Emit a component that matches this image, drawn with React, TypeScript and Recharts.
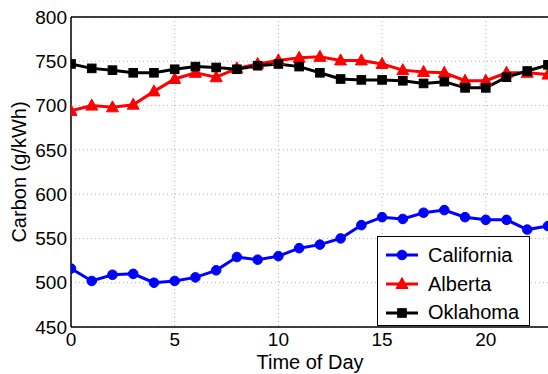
import React from "react";
import { LineChart, Line, XAxis, YAxis, CartesianGrid, ReferenceLine, Legend, Label } from "recharts";

const hours = [0, 1, 2, 3, 4, 5, 6, 7, 8, 9, 10, 11, 12, 13, 14, 15, 16, 17, 18, 19, 20, 21, 22, 23];
const california = [516, 502, 509, 510, 500, 502, 506, 514, 529, 526, 530, 539, 543, 550, 565, 574, 572, 579, 582, 574, 571, 571, 560, 564];
const alberta = [694, 700, 698, 701, 716, 730, 737, 732, 742, 747, 751, 754, 755, 751, 751, 747, 740, 738, 737, 728, 728, 737, 737, 735];
const oklahoma = [747, 742, 740, 737, 737, 741, 744, 743, 741, 745, 747, 744, 737, 730, 729, 729, 728, 725, 727, 720, 720, 732, 739, 746];
const xTicks = [0, 5, 10, 15, 20];
const yTicks = [450, 500, 550, 600, 650, 700, 750, 800];

const data = hours.map((h, i) => ({
  hour: h,
  California: california[i],
  Alberta: alberta[i],
  Oklahoma: oklahoma[i],
}));

const FONT = "'Liberation Sans', Arial, Helvetica, sans-serif";

const Marker = ({ shape, cx, cy, color }: any) => {
  if (shape === "circle") return <circle cx={cx} cy={cy} r={4.8} fill={color} stroke={color} />;
  if (shape === "triangle")
    return <polygon points={`${cx},${cy - 6.5} ${cx - 6},${cy + 4.5} ${cx + 6},${cy + 4.5}`} fill={color} stroke={color} />;
  return <rect x={cx - 4.3} y={cy - 4.3} width={8.6} height={8.6} fill={color} stroke={color} />;
};

const series = [
  { key: "California", color: "#0000ff", shape: "circle" },
  { key: "Alberta", color: "#ff0000", shape: "triangle" },
  { key: "Oklahoma", color: "#000000", shape: "square" },
];

const LegendBox = () => (
  <div
    style={{
      width: 153,
      height: 90,
      boxSizing: "border-box",
      border: "1.5px solid #000",
      background: "#fff",
      fontFamily: FONT,
      fontSize: 20,
      paddingTop: 4,
    }}
  >
    {series.map((s) => (
      <div key={s.key} style={{ display: "flex", alignItems: "center", height: 28.7 }}>
        <svg width={44} height={20} style={{ marginLeft: 6 }}>
          <line x1={2} y1={10} x2={34} y2={10} stroke={s.color} strokeWidth={3} />
          <Marker shape={s.shape} cx={18} cy={10} color={s.color} />
        </svg>
        <span>{s.key}</span>
      </div>
    ))}
  </div>
);

export default function App() {
  return (
    <div style={{ position: "absolute", left: 0, top: 0, background: "#fff" }}>
      <LineChart width={548} height={374} data={data} margin={{ top: 17, right: 0, left: 0, bottom: 0 }}>
        <CartesianGrid stroke="#b4b4b4" strokeDasharray="1 3" verticalValues={xTicks} horizontalValues={yTicks} />
        <XAxis
          dataKey="hour"
          type="number"
          domain={[0, 23]}
          ticks={xTicks}
          height={47}
          tickSize={0}
          tickMargin={6}
          stroke="#000"
          strokeWidth={1.5}
          tick={{ fill: "#000", fontSize: 19, fontFamily: FONT }}
          allowDataOverflow
        >
          <Label
            content={() => (
              <text x={310} y={369} textAnchor="middle" fontSize={20} fontFamily={FONT} fill="#000">
                Time of Day
              </text>
            )}
          />
        </XAxis>
        <YAxis
          type="number"
          domain={[450, 800]}
          ticks={yTicks}
          width={71}
          tickSize={0}
          tickMargin={4}
          stroke="#000"
          strokeWidth={1.5}
          tick={{ fill: "#000", fontSize: 19, fontFamily: FONT }}
          allowDataOverflow
        >
          <Label
            content={() => (
              <text
                x={19}
                y={172}
                transform="rotate(-90 19 172)"
                textAnchor="middle"
                dominantBaseline="central"
                fontSize={20}
                fontFamily={FONT}
                fill="#000"
              >
                Carbon (g/kWh)
              </text>
            )}
          />
        </YAxis>
        <ReferenceLine y={800} stroke="#000" strokeWidth={1.5} ifOverflow="visible" />
        {series.map((s) => (
          <Line
            key={s.key}
            dataKey={s.key}
            stroke={s.color}
            strokeWidth={3}
            isAnimationActive={false}
            dot={(p: any) => <Marker key={`${s.key}-${p.index}`} shape={s.shape} cx={p.cx} cy={p.cy} color={s.color} />}
            activeDot={false}
          />
        ))}
        <Legend
          layout="vertical"
          align="center"
          verticalAlign="middle"
          wrapperStyle={{ left: 377, top: 236, width: 153, height: 90 }}
          content={() => <LegendBox />}
        />
      </LineChart>
    </div>
  );
}
